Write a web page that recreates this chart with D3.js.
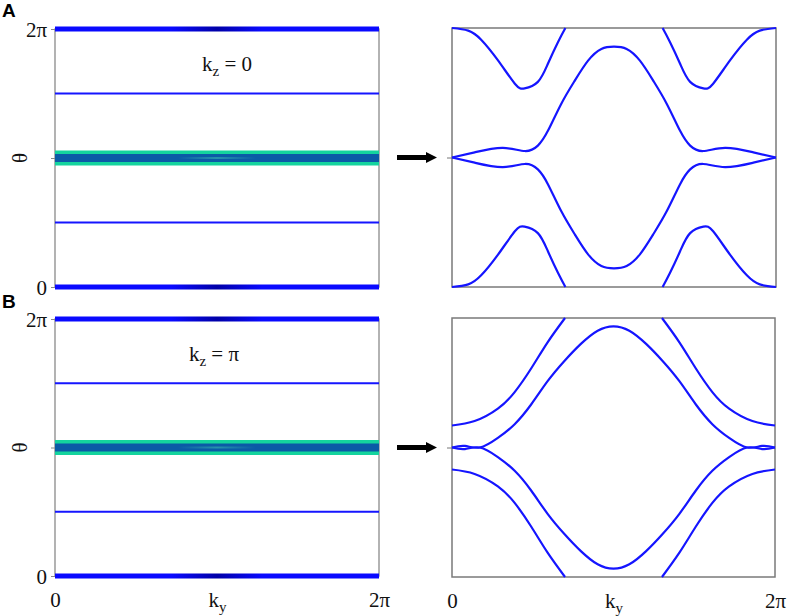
<!DOCTYPE html>
<html><head><meta charset="utf-8">
<script src="https://cdn.jsdelivr.net/npm/d3@7"></script>
<style>body{margin:0;background:#fff}svg{display:block}
.serif{font-family:"Liberation Serif","Times New Roman","DejaVu Serif",serif;}
.sans{font-family:"Liberation Sans",Arial,"DejaVu Sans",sans-serif;}
</style>
</head><body>
<svg id="c" width="789" height="616"></svg>
<script>
// ---- data (all values in units of π) ----
const panelLetters = ["A", "B"];
const kzValues = ["0", "π"];
const thetaTicks = [0, 1, 2];
const thetaTickLabels = ["0", "", "2π"];
const kyTicks = [0, 1, 2];
const kyTickLabels = [["0", ""], ["k", "y"], ["2π", ""]];

// left panels: horizontal levels θ(k_y)
const thickLevels = [0, 2];
const thinLevels = [0.5, 1.5];
const bandLevels = [1];

// right panels, kz = 0
const aTopLeft = [[0,2],[0.1,1.98],[0.18,1.91],[0.284,1.75],[0.388,1.57],[0.448,1.534],[0.53,1.584],[0.592,1.724],[0.654,1.89],[0.70,2.0]];
const aTopRight = [[1.30,2.0],[1.346,1.89],[1.408,1.724],[1.47,1.584],[1.552,1.534],[1.612,1.57],[1.716,1.75],[1.82,1.91],[1.90,1.98],[2,2]];
const aBotLeft = [[0,0],[0.1,0.02],[0.18,0.09],[0.284,0.25],[0.388,0.43],[0.448,0.466],[0.53,0.416],[0.592,0.276],[0.654,0.11],[0.70,0]];
const aBotRight = [[1.30,0],[1.346,0.11],[1.408,0.276],[1.47,0.416],[1.552,0.466],[1.612,0.43],[1.716,0.25],[1.82,0.09],[1.90,0.02],[2,0]];
const aMidUpper = [[0,1],[0.14,1.04],[0.314,1.074],[0.45,1.05],[0.53,1.092],[0.592,1.206],[0.674,1.414],[0.758,1.594],[0.84,1.748],[0.922,1.838],[1.0,1.856],[1.078,1.838],[1.16,1.748],[1.242,1.594],[1.326,1.414],[1.408,1.206],[1.47,1.092],[1.55,1.05],[1.686,1.074],[1.86,1.04],[2,1]];
const aMidLower = [[0,1],[0.14,0.96],[0.314,0.926],[0.45,0.95],[0.53,0.908],[0.592,0.794],[0.674,0.586],[0.758,0.406],[0.84,0.252],[0.922,0.162],[1.0,0.144],[1.078,0.162],[1.16,0.252],[1.242,0.406],[1.326,0.586],[1.408,0.794],[1.47,0.908],[1.55,0.95],[1.686,0.926],[1.86,0.96],[2,1]];

// right panels, kz = π
const bOuterUpLeft = [[0,1.17],[0.14,1.204],[0.284,1.30],[0.388,1.428],[0.49,1.61],[0.592,1.812],[0.70,2.0]];
const bOuterUpRight = [[1.30,2.0],[1.408,1.812],[1.51,1.61],[1.612,1.428],[1.716,1.30],[1.86,1.204],[2,1.17]];
const bOuterLowLeft = [[0,0.83],[0.14,0.796],[0.284,0.70],[0.388,0.572],[0.49,0.39],[0.592,0.188],[0.70,0]];
const bOuterLowRight = [[1.30,0],[1.408,0.188],[1.51,0.39],[1.612,0.572],[1.716,0.70],[1.86,0.796],[2,0.83]];
const bInnerUpper = [[0,1],[0.08,1.012],[0.172,1.0],[0.284,1.074],[0.388,1.18],[0.49,1.332],[0.592,1.512],[0.696,1.668],[0.798,1.80],[0.902,1.902],[1.0,1.936],[1.098,1.902],[1.202,1.80],[1.304,1.668],[1.408,1.512],[1.51,1.332],[1.612,1.18],[1.716,1.074],[1.828,1.0],[1.92,1.012],[2,1]];
const bInnerLower = [[0,1],[0.08,0.988],[0.172,1.0],[0.284,0.926],[0.388,0.82],[0.49,0.668],[0.592,0.488],[0.696,0.332],[0.798,0.20],[0.902,0.098],[1.0,0.064],[1.098,0.098],[1.202,0.20],[1.304,0.332],[1.408,0.488],[1.51,0.668],[1.612,0.82],[1.716,0.926],[1.828,1.0],[1.92,0.988],[2,1]];

const curvesA = [aTopLeft, aTopRight, aBotLeft, aBotRight, aMidUpper, aMidLower];
const curvesB = [bOuterUpLeft, bOuterUpRight, bOuterLowLeft, bOuterLowRight, bInnerUpper, bInnerLower];

// ---- layout ----
const rows = [
  {letter: panelLetters[0], kz: kzValues[0], curves: curvesA, left: {x0:55,x1:379,yt:29,yb:287}, right: {x0:452,x1:776,yt:28,yb:287}, bottom:false, kzPos:[227,71], letterY:17},
  {letter: panelLetters[1], kz: kzValues[1], curves: curvesB, left: {x0:55,x1:379,yt:319,yb:576}, right: {x0:452,x1:775,yt:318,yb:577}, bottom:true, kzPos:[214,361], letterY:308}
];

const svg = d3.select("#c");
const defs = svg.append("defs");
const BLUE = "#1515ff";

const gThick = defs.append("linearGradient").attr("id","gThick");
[[0,"#0a0aff"],[0.36,"#0a0aff"],[0.5,"#0000a8"],[0.64,"#0a0aff"],[1,"#0a0aff"]].forEach(s=>gThick.append("stop").attr("offset",s[0]).attr("stop-color",s[1]));
const gStreak = defs.append("linearGradient").attr("id","gStreak");
[[0,0],[0.38,0],[0.5,0.5],[0.62,0],[1,0]].forEach(s=>gStreak.append("stop").attr("offset",s[0]).attr("stop-color","#3fc9b0").attr("stop-opacity",s[1]));

rows.forEach((r, ri) => {
  // ---------- left panel ----------
  const L = r.left;
  const xL = d3.scaleLinear().domain([0,2]).range([L.x0, L.x1]);
  const yL = d3.scaleLinear().domain([0,2]).range([L.yb, L.yt]);
  const gl = svg.append("g");

  gl.append("rect").attr("x",L.x0).attr("y",L.yt).attr("width",L.x1-L.x0).attr("height",L.yb-L.yt)
    .attr("fill","none").attr("stroke","#8a8a8a").attr("stroke-width",1.3);

  const ax = d3.axisLeft(yL).tickValues(thetaTicks).tickFormat((d,i)=>thetaTickLabels[i]).tickSize(4).tickPadding(4);
  const ag = gl.append("g").attr("transform",`translate(${L.x0},0)`).call(ax);
  ag.attr("font-family",null).attr("font-size",null);
  ag.select(".domain").remove();
  ag.selectAll(".tick line").attr("stroke","#8a8a8a");
  ag.selectAll(".tick text").attr("class","serif").style("font-size","21px").attr("fill","#111").attr("dy","0.36em");

  bandLevels.forEach(v=>{
    gl.append("line").attr("x1",xL(0)).attr("x2",xL(2)).attr("y1",yL(v)).attr("y2",yL(v))
      .attr("stroke","#14d49e").attr("stroke-width",15);
    gl.append("line").attr("x1",xL(0)).attr("x2",xL(2)).attr("y1",yL(v)).attr("y2",yL(v))
      .attr("stroke","#0b5aa6").attr("stroke-width",8);
    gl.append("rect").attr("x",xL(0)).attr("width",xL(2)-xL(0)).attr("y",yL(v)-1).attr("height",2)
      .attr("fill","url(#gStreak)");
  });
  thinLevels.forEach(v=>{
    gl.append("line").attr("x1",xL(0)).attr("x2",xL(2)).attr("y1",yL(v)).attr("y2",yL(v))
      .attr("stroke",BLUE).attr("stroke-width",2);
  });
  thickLevels.forEach(v=>{
    gl.append("rect").attr("x",xL(0)).attr("width",xL(2)-xL(0)).attr("y",yL(v)-2.5).attr("height",5)
      .attr("fill","url(#gThick)");
  });

  const kt = gl.append("text").attr("class","serif").attr("x",r.kzPos[0]).attr("y",r.kzPos[1]).attr("text-anchor","middle")
    .style("font-size","21px").attr("fill","#111");
  kt.append("tspan").text("k");
  kt.append("tspan").style("font-size","15px").attr("dy",5).text("z");
  kt.append("tspan").attr("dy",-5).text(" = " + r.kz);

  gl.append("text").attr("class","serif").attr("transform",`translate(20,${yL(1)}) rotate(-90)`).attr("text-anchor","middle")
    .attr("dy","0.35em").style("font-size","21px").attr("fill","#111").text("θ");

  svg.append("text").attr("class","sans").attr("x",2).attr("y",r.letterY)
    .attr("font-weight","bold").style("font-size","19px").attr("fill","#000").text(r.letter);

  // ---------- right panel ----------
  const R = r.right;
  const xR = d3.scaleLinear().domain([0,2]).range([R.x0, R.x1]);
  const yR = d3.scaleLinear().domain([0,2]).range([R.yb, R.yt]);
  const gr = svg.append("g");
  const clipId = "clip"+ri;
  defs.append("clipPath").attr("id",clipId).append("rect")
    .attr("x",R.x0-1).attr("y",R.yt-1.5).attr("width",R.x1-R.x0+2).attr("height",R.yb-R.yt+3);

  const ayR = d3.axisLeft(yR).tickValues([1]).tickFormat("").tickSize(5);
  const agR = gr.append("g").attr("transform",`translate(${R.x0},0)`).call(ayR);
  agR.select(".domain").remove();
  agR.selectAll(".tick line").attr("stroke","#777");

  gr.append("rect").attr("x",R.x0).attr("y",R.yt).attr("width",R.x1-R.x0).attr("height",R.yb-R.yt)
    .attr("fill","none").attr("stroke","#7a7a7a").attr("stroke-width",1.5);

  const line = d3.line().x(d=>xR(d[0])).y(d=>yR(d[1])).curve(d3.curveNatural);
  gr.append("g").attr("clip-path",`url(#${clipId})`).selectAll("path").data(r.curves).join("path")
    .attr("d",line).attr("fill","none").attr("stroke",BLUE).attr("stroke-width",2.2);

  const ay = yR(1);
  const ax0 = 397, ax1 = 437, headL = 11, shaftH = 5, headH = 11;
  svg.append("path").attr("d",
    `M${ax0},${ay-shaftH/2}L${ax1-headL},${ay-shaftH/2}L${ax1-headL},${ay-headH/2}L${ax1},${ay}L${ax1-headL},${ay+headH/2}L${ax1-headL},${ay+shaftH/2}L${ax0},${ay+shaftH/2}Z`)
    .attr("fill","#000");

  if (r.bottom) {
    [[xL, L.yb],[xR, R.yb]].forEach(([xs, yb])=>{
      const bx = d3.axisBottom(xs).tickValues(kyTicks).tickFormat("").tickSize(0).tickPadding(0);
      const bg = svg.append("g").attr("transform",`translate(0,${yb})`).call(bx);
      bg.select(".domain").remove();
      bg.selectAll(".tick").each(function(d,i){
        const t = d3.select(this).append("text").attr("class","serif").attr("y",31).attr("text-anchor","middle")
          .style("font-size","21px").attr("fill","#111");
        t.append("tspan").text(kyTickLabels[i][0]);
        if (kyTickLabels[i][1]) t.append("tspan").style("font-size","15px").attr("dy",5).text(kyTickLabels[i][1]);
      });
    });
  }
});
</script>
</body></html>
